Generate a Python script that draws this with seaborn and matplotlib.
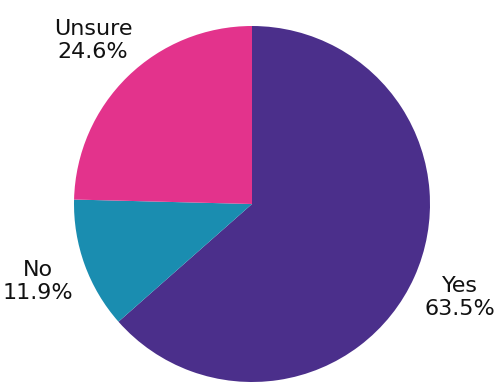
import matplotlib
matplotlib.use("Agg")
import matplotlib.pyplot as plt
import seaborn as sns

# Survey responses
categories = ["Yes", "No", "Unsure"]
shares = [63.5, 11.9, 24.6]
colors = ["#4B2F8B", "#1A8DB0", "#E3338C"]

sns.set_theme(style="white")
plt.rcParams["font.family"] = ["DejaVu Sans"]

W, H = 497, 385
fig = plt.figure(figsize=(W / 100, H / 100), dpi=100)
cx, cy, r = 252, 204, 178
ax = fig.add_axes([(cx - r) / W, (H - cy - r) / H, 2 * r / W, 2 * r / H])

labels = [f"{c}\n{v:.1f}%" for c, v in zip(categories, shares)]
wedges, texts = ax.pie(
    shares,
    labels=labels,
    colors=colors,
    startangle=90,
    counterclock=False,
    labeldistance=1.28,
    textprops=dict(fontsize=16, color="#111111", linespacing=1.2),
    wedgeprops=dict(linewidth=0),
)
for t in texts:
    t.set_ha("center")
    t.set_va("center")

ax.set_xlim(-1, 1)
ax.set_ylim(-1, 1)
ax.set_aspect("equal")
ax.axis("off")

fig.savefig("out.png", dpi=100, facecolor="white")
